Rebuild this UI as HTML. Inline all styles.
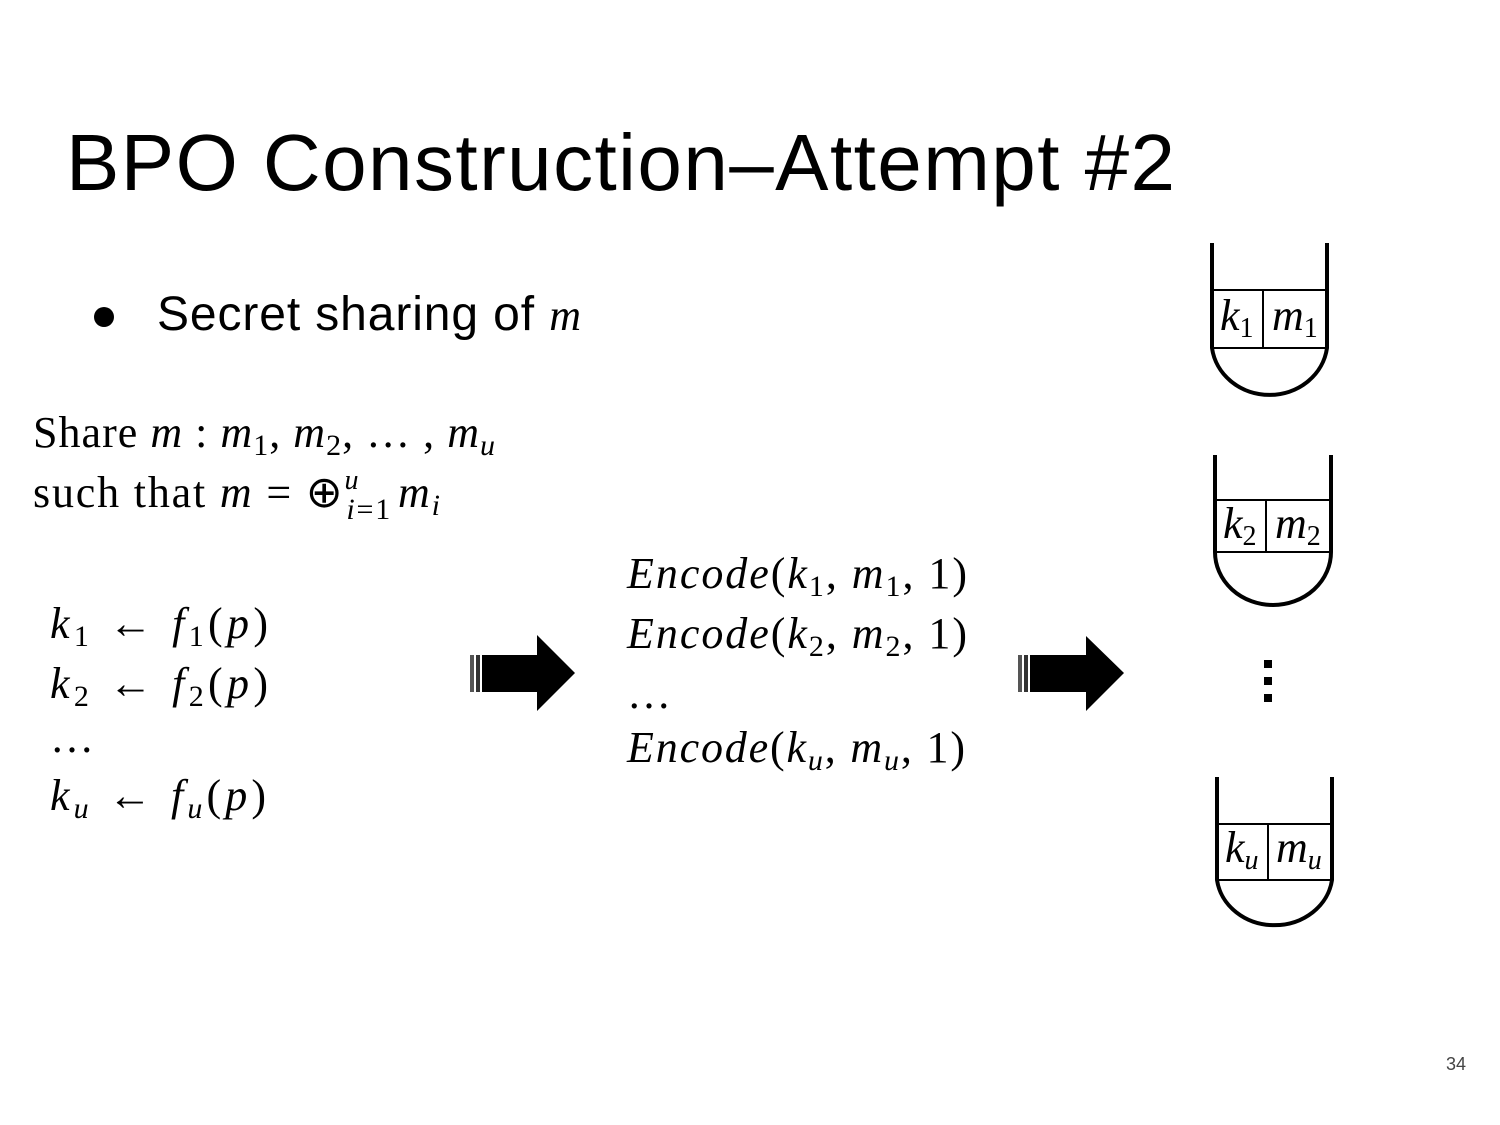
<!DOCTYPE html>
<html><head><meta charset="utf-8"><style>
html,body{margin:0;padding:0;background:#fff;}
svg{display:block;}
.s{font-family:"Liberation Sans",sans-serif;}
.m{font-family:"Liberation Serif",serif;font-size:44px;}
.i{font-style:italic;}
</style></head><body>
<svg width="1500" height="1125" viewBox="0 0 1500 1125" xmlns="http://www.w3.org/2000/svg">
<text x="66" y="190" class="s" font-size="80" textLength="1109" lengthAdjust="spacing">BPO Construction–Attempt #2</text>
<circle cx="104" cy="317" r="10" fill="#000"/>
<text x="157" y="330" class="s" font-size="48" textLength="424" lengthAdjust="spacing">Secret sharing of <tspan class="m i" font-size="48">m</tspan></text>

<text x="33" y="447" class="m" textLength="462" lengthAdjust="spacing">Share <tspan class="i">m</tspan> : <tspan class="i">m</tspan><tspan font-size="30" dy="8">1</tspan><tspan dy="-8">, </tspan><tspan class="i">m</tspan><tspan font-size="30" dy="8">2</tspan><tspan dy="-8">, … , </tspan><tspan class="i">m</tspan><tspan class="i" font-size="30" dy="8">u</tspan></text>
<text x="33" y="507" class="m" textLength="407" lengthAdjust="spacing">such that <tspan class="i">m</tspan> = ⊕<tspan class="i" font-size="28" dy="-18">u</tspan><tspan class="i" font-size="30" dx="-14" dy="30">i</tspan><tspan font-size="30">=1</tspan><tspan class="i" dx="6" dy="-12">m</tspan><tspan class="i" font-size="30" dy="8">i</tspan></text>

<text x="50" y="638" class="m" textLength="218" lengthAdjust="spacing"><tspan class="i">k</tspan><tspan font-size="30" dy="8">1</tspan><tspan dy="-8"> ← </tspan><tspan class="i">f</tspan><tspan font-size="30" dy="8">1</tspan><tspan dy="-8">(</tspan><tspan class="i">p</tspan>)</text>
<text x="50" y="698" class="m" textLength="218" lengthAdjust="spacing"><tspan class="i">k</tspan><tspan font-size="30" dy="8">2</tspan><tspan dy="-8"> ← </tspan><tspan class="i">f</tspan><tspan font-size="30" dy="8">2</tspan><tspan dy="-8">(</tspan><tspan class="i">p</tspan>)</text>
<text x="50" y="752" class="m">…</text>
<text x="50" y="810" class="m" textLength="216" lengthAdjust="spacing"><tspan class="i">k</tspan><tspan class="i" font-size="30" dy="8">u</tspan><tspan dy="-8"> ← </tspan><tspan class="i">f</tspan><tspan class="i" font-size="30" dy="8">u</tspan><tspan dy="-8">(</tspan><tspan class="i">p</tspan>)</text>

<text x="627" y="588" class="m" textLength="340" lengthAdjust="spacing"><tspan class="i">Encode</tspan>(<tspan class="i">k</tspan><tspan font-size="30" dy="8">1</tspan><tspan dy="-8">, </tspan><tspan class="i">m</tspan><tspan font-size="30" dy="8">1</tspan><tspan dy="-8">, 1)</tspan></text>
<text x="627" y="648" class="m" textLength="340" lengthAdjust="spacing"><tspan class="i">Encode</tspan>(<tspan class="i">k</tspan><tspan font-size="30" dy="8">2</tspan><tspan dy="-8">, </tspan><tspan class="i">m</tspan><tspan font-size="30" dy="8">2</tspan><tspan dy="-8">, 1)</tspan></text>
<text x="627" y="708" class="m">…</text>
<text x="627" y="762" class="m" textLength="338" lengthAdjust="spacing"><tspan class="i">Encode</tspan>(<tspan class="i">k</tspan><tspan class="i" font-size="30" dy="8">u</tspan><tspan dy="-8">, </tspan><tspan class="i">m</tspan><tspan class="i" font-size="30" dy="8">u</tspan><tspan dy="-8">, 1)</tspan></text>

<g fill="#000">
<rect x="470" y="655" width="4" height="37" fill="#555"/><rect x="476" y="655" width="4" height="37" fill="#333"/>
<polygon points="482,655 537,655 537,635 575,673 537,711 537,692 482,692"/>
<rect x="1018" y="655" width="4" height="37" fill="#555"/><rect x="1024" y="655" width="4" height="37" fill="#333"/>
<polygon points="1030,655 1086,655 1086,636 1124,673 1086,711 1086,692 1030,692"/>
<rect x="1264" y="660" width="8" height="8"/><rect x="1264" y="677" width="8" height="8"/><rect x="1264" y="694" width="8" height="8"/>
</g>

<g fill="none" stroke="#000">
<path d="M1212,243 V348 A58,54 0 0 0 1327,348 V243" stroke-width="4"/>
<path d="M1212,290 H1327 M1212,348 H1327 M1263,290 V348" stroke-width="2"/>
<path d="M1215,455 V552 A58,53 0 0 0 1331,552 V455" stroke-width="4"/>
<path d="M1215,500 H1331 M1215,552 H1331 M1266,500 V552" stroke-width="2"/>
<path d="M1217,777 V880 A58,52 0 0 0 1332,880 V777" stroke-width="4"/>
<path d="M1217,824 H1332 M1217,880 H1332 M1268,824 V880" stroke-width="2"/>
</g>
<text x="1220" y="330" class="m" font-size="40"><tspan class="i">k</tspan><tspan font-size="28" dy="7">1</tspan><tspan class="i" x="1272" dy="-7">m</tspan><tspan font-size="28" dy="7">1</tspan></text>
<text x="1223" y="538" class="m" font-size="40"><tspan class="i">k</tspan><tspan font-size="28" dy="7">2</tspan><tspan class="i" x="1275" dy="-7">m</tspan><tspan font-size="28" dy="7">2</tspan></text>
<text x="1225" y="862" class="m" font-size="40"><tspan class="i">k</tspan><tspan class="i" font-size="28" dy="7">u</tspan><tspan class="i" x="1276" dy="-7">m</tspan><tspan class="i" font-size="28" dy="7">u</tspan></text>

<text x="1466" y="1070" class="s" font-size="18" fill="#444" text-anchor="end">34</text>
</svg>
</body></html>
